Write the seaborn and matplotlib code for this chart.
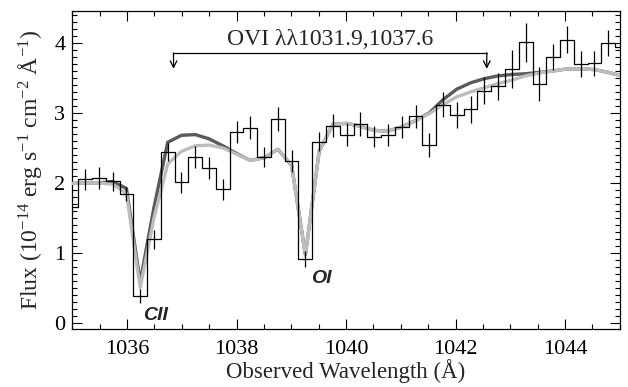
import numpy as np
import pandas as pd
import matplotlib
matplotlib.use("Agg")
import matplotlib.pyplot as plt
import seaborn as sns
from matplotlib.ticker import MultipleLocator

# ---------------- data ----------------
wave = [1034.984, 1035.236, 1035.487, 1035.739, 1035.990, 1036.241, 1036.493,
        1036.744, 1036.995, 1037.247, 1037.498, 1037.750, 1038.001, 1038.252,
        1038.504, 1038.755, 1039.006, 1039.258, 1039.509, 1039.761, 1040.012,
        1040.263, 1040.515, 1040.766, 1041.017, 1041.269, 1041.520, 1041.772,
        1042.023, 1042.274, 1042.526, 1042.777, 1043.028, 1043.280, 1043.531,
        1043.783, 1044.034, 1044.285, 1044.537, 1044.788, 1045.039]
flux = [1.65, 2.05, 2.07, 2.02, 1.84, 0.38, 1.19, 2.44, 2.01, 2.37, 2.21,
        1.91, 2.73, 2.79, 2.37, 2.91, 2.31, 0.91, 2.59, 2.82, 2.69, 2.84,
        2.66, 2.68, 2.80, 2.95, 2.54, 3.12, 2.97, 3.05, 3.32, 3.38, 3.63,
        4.01, 3.41, 3.80, 4.05, 3.70, 3.71, 4.00, 3.94]
flux_err = [0.15, 0.15, 0.16, 0.13, 0.10, 0.10, 0.13, 0.13, 0.15, 0.16, 0.16,
            0.15, 0.16, 0.17, 0.14, 0.17, 0.16, 0.11, 0.14, 0.16, 0.16, 0.17,
            0.15, 0.16, 0.16, 0.17, 0.17, 0.18, 0.18, 0.19, 0.19, 0.19, 0.27,
            0.28, 0.24, 0.18, 0.19, 0.18, 0.18, 0.19, 0.19]
model_no_ovi = [1.99, 2.00, 2.00, 1.98, 1.85, 0.50, 1.50, 2.27, 2.45, 2.53, 2.54,
                2.50, 2.41, 2.32, 2.36, 2.48, 2.25, 0.97, 2.45, 2.84, 2.85, 2.81,
                2.75, 2.74, 2.80, 2.89, 2.99, 3.12, 3.23, 3.30, 3.36, 3.42, 3.47,
                3.53, 3.57, 3.60, 3.63, 3.63, 3.62, 3.58, 3.53]
model_ovi = [1.99, 2.00, 2.00, 2.02, 1.92, 0.58, 1.65, 2.58, 2.68, 2.69, 2.63,
             2.53, 2.42, 2.32, 2.36, 2.48, 2.25, 0.97, 2.45, 2.84, 2.85, 2.81,
             2.75, 2.74, 2.80, 2.89, 3.00, 3.19, 3.34, 3.43, 3.49, 3.53, 3.55,
             3.56, 3.58, 3.60, 3.63, 3.63, 3.62, 3.58, 3.53]
ovi_marks = [1036.85, 1042.57]
ovi_label = "OVI \u03bb\u03bb1031.9,1037.6"
line_labels = ["CII", "OI"]
line_label_x = [1036.52, 1039.54]
line_label_y = [0.11, 0.63]

df = pd.DataFrame({"wave": wave, "flux": flux, "err": flux_err,
                   "m1": model_no_ovi, "m2": model_ovi})

# ---------------- style ----------------
sns.set_style("ticks")
plt.rcParams["font.family"] = ["Liberation Serif", "DejaVu Serif"]
plt.rcParams["mathtext.fontset"] = "custom"
plt.rcParams["mathtext.rm"] = "Liberation Serif"
plt.rcParams["mathtext.it"] = "Liberation Serif:italic"
plt.rcParams["mathtext.bf"] = "Liberation Serif:bold"

fig = plt.figure(figsize=(6.28, 3.87), dpi=100)
ax = fig.add_axes([0.115, 0.149, 0.872, 0.823])

# models
sns.lineplot(data=df, x="wave", y="m2", ax=ax, color="#5a5a5a", lw=2.4,
             zorder=2, estimator=None, sort=False)
sns.lineplot(data=df, x="wave", y="m1", ax=ax, color="#bdbdbd", lw=2.4,
             zorder=3, estimator=None, sort=False)
# binned spectrum
sns.lineplot(data=df, x="wave", y="flux", ax=ax, color="black", lw=0.9,
             drawstyle="steps-mid", zorder=4, estimator=None, sort=False)
ax.errorbar(df["wave"], df["flux"], yerr=df["err"], fmt="none",
            ecolor="black", elinewidth=0.9, capsize=0, zorder=4)

ax.set_xlim(1035, 1045)
ax.set_ylim(-0.095, 4.46)

# OVI bracket
ybar, ytip = 3.86, 3.63
ax.plot(ovi_marks, [ybar, ybar], color="black", lw=0.9, zorder=5)
for xm in ovi_marks:
    ax.annotate("", xy=(xm, ytip), xytext=(xm, ybar),
                arrowprops=dict(arrowstyle="->", color="black", lw=0.9,
                                shrinkA=0, shrinkB=0, mutation_scale=12))
ax.text(np.mean(ovi_marks), 4.05, ovi_label, ha="center", va="center",
        fontsize=17)

for lab, lx, ly in zip(line_labels, line_label_x, line_label_y):
    ax.text(lx, ly, lab, ha="center", va="center", fontsize=14,
            family="Liberation Sans", weight="bold", style="italic")

# ticks
ax.xaxis.set_major_locator(MultipleLocator(2))
ax.xaxis.set_minor_locator(MultipleLocator(0.5))
ax.yaxis.set_major_locator(MultipleLocator(1))
ax.yaxis.set_minor_locator(MultipleLocator(0.1))
ax.tick_params(which="both", direction="in", top=True, right=True,
               labelsize=16, width=0.8, colors="black")
ax.tick_params(axis="x", which="major", length=7, pad=8)
ax.tick_params(axis="y", which="major", length=7, pad=5)
ax.tick_params(which="minor", length=3.5)
for s in ax.spines.values():
    s.set_linewidth(0.9)
    s.set_color("black")

ax.set_xlabel("Observed Wavelength (\u00c5)", fontsize=16.5, labelpad=0)
ax.set_ylabel("Flux (10$^{-14}$ erg s$^{-1}$ cm$^{-2}$ \u00c5$^{-1}$)",
              fontsize=17, labelpad=7)

fig.savefig("out.png", dpi=100)
